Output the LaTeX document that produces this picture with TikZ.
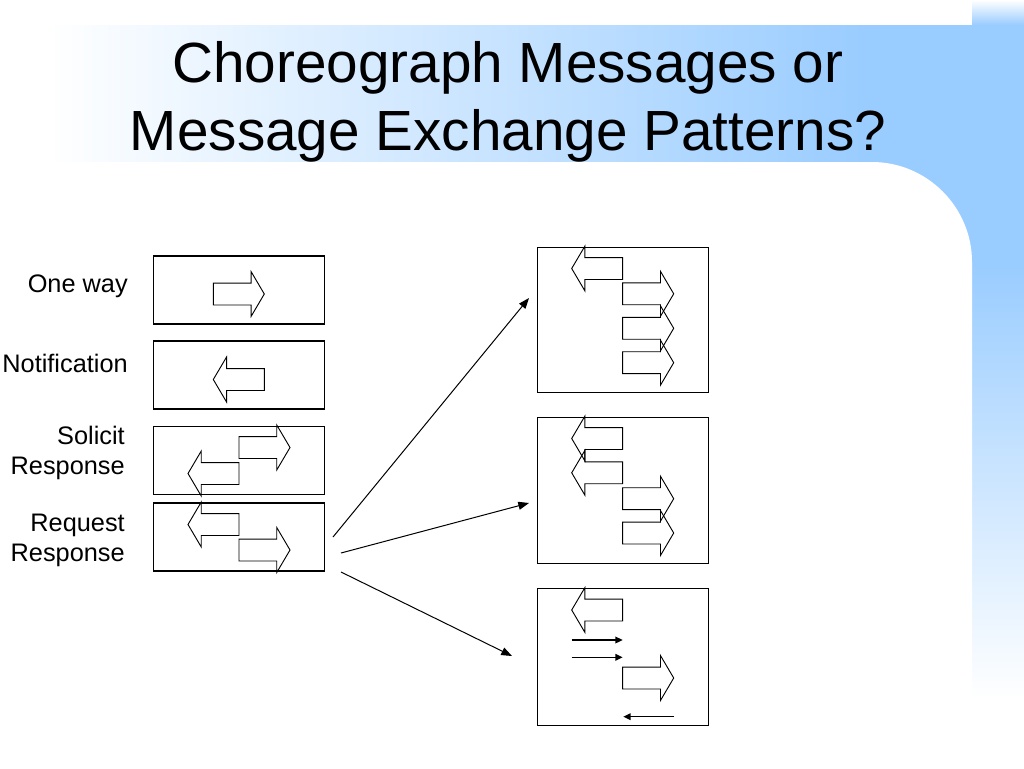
\documentclass[tikz,border=0pt]{standalone}
\usepackage{fontspec}
\setmainfont{Liberation Sans}
\usetikzlibrary{shapes.arrows, arrows.meta, positioning}
\definecolor{slideblue}{RGB}{153,204,255}

\begin{document}
\begin{tikzpicture}[x=0.75pt, y=-0.75pt,
    box/.style={draw, line width=0.8pt, minimum width=128.25pt, inner sep=0pt},
    msg/.style={single arrow, draw, line width=0.7pt, minimum height=38.25pt,
        single arrow head extend=8.625pt, single arrow tip angle=119,
        single arrow head indent=0pt, inner xsep=0pt, inner ysep=7.875pt,
        outer sep=0pt, anchor=tail},
    msgback/.style={msg, shape border rotate=180},
    kind/.style={font=\fontsize{19}{22.5}\selectfont, align=right, inner sep=0pt},
    link/.style={-{Triangle[length=8pt,width=6pt]}, line width=0.75pt},
    shortlink/.style={-{Triangle[length=5.5pt,width=5pt]}, line width=1pt}]
    \useasboundingbox (0,0) rectangle (1024,768);

    % Slide background
    \fill[white] (0,0) rectangle (1024,768);
    \shade[left color=white, right color=slideblue] (47,25) rectangle (870,162);
    \fill[slideblue] (870,25) rectangle (1024,262);
    \shade[top color=white, bottom color=slideblue] (972,0) rectangle (1024,25);
    \shade[top color=slideblue, bottom color=white] (972,262) rectangle (1024,700);
    \fill[white] (0,162) -- (872,162) .. controls (927,162) and (972,207) .. (972,262)
        -- (972,768) -- (0,768) -- cycle;

    % Title
    \node[font=\fontsize{42.5}{51}\selectfont, anchor=base] (title) at (508,82) {Choreograph Messages or};
    \node[font=\fontsize{42.5}{51}\selectfont, anchor=base] (subtitle) at (508,150) {Message Exchange Patterns?};

    % Message exchange patterns
    \node[box, minimum height=51pt] (oneway) at (239,290) {};
    \node[box, minimum height=51pt] (notif) at (239,375) {};
    \node[box, minimum height=51pt] (solicit) at (239,460.5) {};
    \node[box, minimum height=51pt] (request) at (239,537) {};

    \node[kind, anchor=base east] (onewaytxt) at (128,292) {One way};
    \node[kind, anchor=base east] (notiftxt) at (128,372) {Notification};
    \node[kind, anchor=east] (solicittxt) at (125,453.4) {Solicit\\Response};
    \node[kind, anchor=east] (requesttxt) at (125,540.6) {Request\\Response};

    % block arrows are placed by their tails
    \node[msg] (ow1) at (213.3,294) {};
    \node[msgback] (nt1) at (264.3,379.5) {};
    \node[msg] (sr1) at (239,447.5) {};
    \node[msgback] (sr2) at (239,473.5) {};
    \node[msgback] (rr1) at (239,524.5) {};
    \node[msg] (rr2) at (239,550) {};

    % Choreographies
    \node[box, minimum height=108.75pt] (chorA) at (622.8,319.8) {};
    \node[box, minimum height=109.5pt] (chorB) at (622.8,490.3) {};
    \node[box, minimum height=102.75pt] (chorC) at (622.8,656.7) {};

    \node[msgback] (a1) at (622.7,268.5) {};
    \node[msg] (a2) at (622.7,293.8) {};
    \node[msg] (a3) at (622.7,328.3) {};
    \node[msg] (a4) at (622.7,362.7) {};

    \node[msgback] (b1) at (622.7,438.5) {};
    \node[msgback] (b2) at (622.7,472.8) {};
    \node[msg] (b3) at (622.7,498.7) {};
    \node[msg] (b4) at (622.7,533) {};

    \node[msgback] (c1) at (622.7,610) {};
    \node[msg] (c2) at (622.7,678) {};
    \coordinate (c3from) at (571.7,640);
    \coordinate (c3to) at (622.7,640);
    \coordinate (c4from) at (571.7,657.3);
    \coordinate (c4to) at (622.7,657.3);
    \coordinate (c5from) at (674,716.7);
    \coordinate (c5to) at (623.3,716.7);
    \draw[shortlink] (c3from) -- (c3to);
    \draw[shortlink] (c4from) -- (c4to);
    \draw[shortlink] (c5from) -- (c5to);

    % Links from the request box
    \coordinate (out1) at (333,537);
    \coordinate (out2) at (341,553);
    \coordinate (out3) at (341,572);
    \coordinate (inA) at (529,298);
    \coordinate (inB) at (529,503);
    \coordinate (inC) at (512,656);
    \draw[link] (out1) -- (inA);
    \draw[link] (out2) -- (inB);
    \draw[link] (out3) -- (inC);
\end{tikzpicture}
\end{document}
